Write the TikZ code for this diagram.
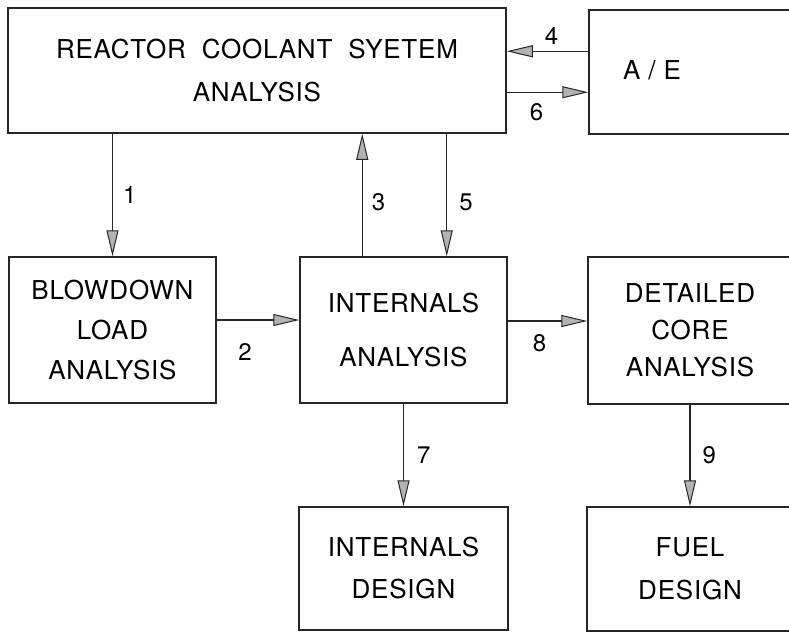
\documentclass[tikz,border=0pt]{standalone}
\usepackage{fontspec}
\setmainfont[LetterSpace=3]{TeX Gyre Heros}
\usetikzlibrary{arrows.meta,positioning}

\begin{document}
\begin{tikzpicture}[x=1pt,y=-1pt,
  box/.style={draw=black!85,line width=1.5pt,align=center,inner sep=0pt,
    font=\fontsize{26}{40}\selectfont},
  flow/.style={draw=black!85,line width=1.2pt,
    -{Triangle[length=26pt,width=12pt,fill=black!30,line width=1pt]}},
  lab/.style={font=\fontsize{24}{24}\selectfont,inner sep=2pt}]
  \useasboundingbox (0,0) rectangle (789,633);
  \clip (0,0) rectangle (789,633);

  % top row
  \node[box,minimum width=498pt,minimum height=125pt,font=\fontsize{26}{43}\selectfont]
    (rcs) at (257,70.5) {REACTOR\ \ COOLANT\ \ SYETEM\\ANALYSIS};
  \node[box,minimum width=211pt,minimum height=124pt] (ae) at (694.5,72) {};
  \node[font=\fontsize{26}{40}\selectfont] (aetxt) at (652,70) {A / E};

  % middle row
  \node[box,minimum width=207pt,minimum height=146pt] (blow) at (112.5,330)
    {BLOWDOWN\\LOAD\\ANALYSIS};
  \node[box,minimum width=207pt,minimum height=146pt] (intan) at (403.5,330)
    {INTERNALS\\[14pt]ANALYSIS};
  \node[box,minimum width=204pt,minimum height=147pt,font=\fontsize{26}{37}\selectfont]
    (core) at (690,330.5) {DETAILED\\CORE\\ANALYSIS};

  % bottom row
  \node[box,minimum width=209pt,minimum height=123pt,font=\fontsize{26}{42}\selectfont]
    (indes) at (403.5,568.5) {INTERNALS\\DESIGN};
  \node[box,minimum width=206pt,minimum height=124pt,font=\fontsize{26}{43}\selectfont]
    (fuel) at (690,569) {FUEL\\DESIGN};

  % connectors
  \coordinate (p4) at ([yshift=-42pt]ae.north west);
  \coordinate (p6) at ([yshift=-85pt]rcs.north east);
  \coordinate (p3) at ([xshift=63pt]intan.north west);
  \coordinate (p5) at ([xshift=-61pt]intan.north east);
  \coordinate (p2) at ([yshift=10pt]blow.east);
  \coordinate (p8) at ([yshift=9pt]intan.east);

  \draw[flow] (p4) -- (p4 -| rcs.east) node[lab,midway,above=4pt,xshift=4pt] (n4) {4};
  \draw[flow] (p6) -- (p6 -| ae.west) node[lab,midway,below=9pt,xshift=-11pt] (n6) {6};
  \draw[flow] (rcs.south -| blow.north) -- (blow.north) node[lab,midway,right=8pt] (n1) {1};
  \draw[flow] (p3) -- (p3 |- rcs.south) node[lab,midway,right=7pt,yshift=-7pt] (n3) {3};
  \draw[flow] (p5 |- rcs.south) -- (p5) node[lab,midway,right=10pt,yshift=-7pt] (n5) {5};
  \draw[flow] (p2) -- (p2 -| intan.west) node[lab,midway,below=21pt,xshift=-13pt] (n2) {2};
  \draw[flow] (p8) -- (p8 -| core.west) node[lab,midway,below=11pt,xshift=-8pt] (n8) {8};
  \draw[flow] (intan.south) -- (indes.north) node[lab,midway,right=11pt] (n7) {7};
  \draw[flow] (core.south) -- (fuel.north) node[lab,midway,right=10pt] (n9) {9};
\end{tikzpicture}
\end{document}
